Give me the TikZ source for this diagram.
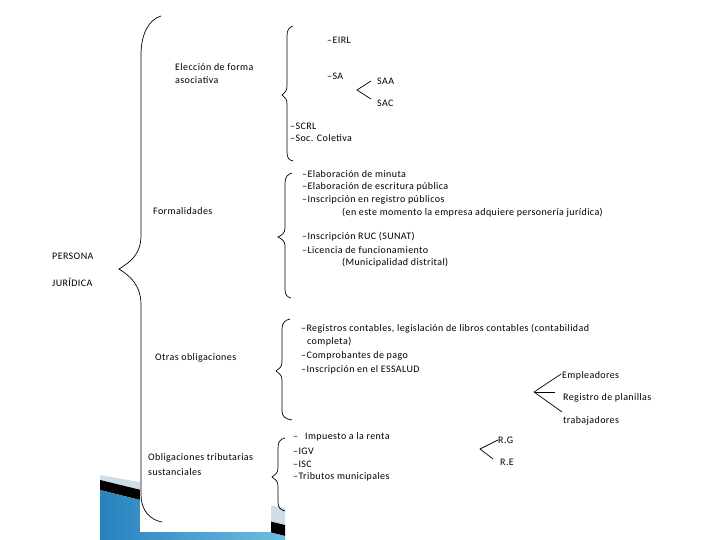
\documentclass[tikz,border=0pt]{standalone}
\usepackage{fontspec}
\setmainfont{Carlito}[LetterSpace=4]
\begin{document}
\begin{tikzpicture}[x=1pt,y=-1pt,
  txt/.style={anchor=west, inner sep=0pt, font=\fontsize{10}{12}\selectfont},
  ln/.style={line width=0.7pt, black},
  brace/.style={line width=0.7pt, black}]
\useasboundingbox (0,0) rectangle (720,540);
\fill[white] (0,0) rectangle (720,540);
% decoration lower left
\definecolor{deco1}{RGB}{205,222,232}
\definecolor{deco2}{RGB}{40,130,190}
\definecolor{deco3}{RGB}{110,190,225}
\fill[deco1] (100,475) -- (285,508) -- (285,525) -- (100,480) -- cycle;
\fill[black] (100,480) -- (285,525) -- (285,536) -- (100,490) -- cycle;
\shade[left color=deco2, right color=deco3] (100,490) -- (285,536) -- (285,540) -- (100,540) -- cycle;
\fill[white] (140,420) rectangle (271,532);
% big brace
\draw[brace] (161,16) .. controls (148,20) and (141,35) .. (141,55) -- (141,235)
  .. controls (141,255) and (130,262) .. (119,269)
  .. controls (130,276) and (141,285) .. (141,305) -- (141,495)
  .. controls (141,510) and (150,520) .. (162,522);
% brace Eleccion
\draw[brace] (293,26) .. controls (289,27) and (287,30) .. (287,36) -- (287,86)
  .. controls (287,91) and (285,93) .. (282,95)
  .. controls (285,97) and (287,99) .. (287,104) -- (287,152)
  .. controls (287,158) and (289,160) .. (293,161);
% brace Formalidades
\draw[brace] (292,173) .. controls (288,174) and (285,177) .. (285,183) -- (285,228)
  .. controls (285,233) and (282,235) .. (278,237)
  .. controls (282,239) and (285,241) .. (285,246) -- (285,289)
  .. controls (285,295) and (287,297) .. (291,298);
% brace Otras
\draw[brace] (290,319) .. controls (285,320) and (282,323) .. (282,329) -- (282,362)
  .. controls (282,367) and (279,369) .. (276,371)
  .. controls (279,373) and (282,375) .. (282,380) -- (282,411)
  .. controls (282,417) and (286,419) .. (292,420);
% brace Tributarias
\draw[brace] (285,438) .. controls (280,439) and (278,442) .. (278,448) -- (278,468)
  .. controls (278,473) and (275,475) .. (272,477)
  .. controls (275,479) and (278,481) .. (278,486) -- (278,502)
  .. controls (278,508) and (281,510) .. (285,511);
% texts
\node[txt] (eirl) at (327,40) {–EIRL};
\node[txt] (elec1) at (175,67) {Elección de forma};
\node[txt] (elec2) at (175,80) {asociativa};
\node[txt] (sa) at (327,76) {–SA};
\node[txt] (saa) at (377,81) {SAA};
\node[txt] (sac) at (377,103) {SAC};
\node[txt] (scrl) at (290,126) {–SCRL};
\node[txt] (soc) at (290,138) {–Soc. Coletiva};
\node[txt] (f1) at (302,174) {–Elaboración de minuta};
\node[txt] (f2) at (302,187) {–Elaboración de escritura pública};
\node[txt] (f3) at (302,200) {–Inscripción en registro públicos};
\node[txt] (f4) at (342,213) {(en este momento la empresa adquiere personería jurídica)};
\node[txt] (f5) at (302,237) {–Inscripción RUC (SUNAT)};
\node[txt] (f6) at (302,250) {–Licencia de funcionamiento};
\node[txt] (f7) at (342,263) {(Municipalidad distrital)};
\node[txt] (form) at (153,211) {Formalidades};
\node[txt] (pers) at (52,256) {PERSONA};
\node[txt] (jur) at (52,282) {JURÍDICA};
\node[txt] (otras) at (155,358) {Otras obligaciones};
\node[txt] (o1) at (301,329) {–Registros contables, legislación de libros contables (contabilidad};
\node[txt] (o2) at (307,342) {completa)};
\node[txt] (o3) at (301,356) {–Comprobantes de pago};
\node[txt] (o4) at (301,370) {–Inscripción en el ESSALUD};
\node[txt] (emp) at (562,376) {Empleadores};
\node[txt] (reg) at (563,398) {Registro de planillas};
\node[txt] (trab) at (563,421) {trabajadores};
\node[txt] (t1) at (293,437) {–\hspace{7pt}Impuesto a la renta};
\node[txt] (t2) at (293,451) {–IGV};
\node[txt] (t3) at (293,464) {–ISC};
\node[txt] (t4) at (293,477) {–Tributos municipales};
\node[txt] (rg) at (498,440) {R.G};
\node[txt] (re) at (500,462) {R.E};
\node[txt] (obl1) at (148,458) {Obligaciones tributarias};
\node[txt] (obl2) at (148,472) {sustanciales};
% angle connectors
\coordinate (satip) at (357,90);
\coordinate (saa-e) at (371,81);
\coordinate (sac-e) at (371,99);
\draw[ln] (saa-e) -- (satip) -- (sac-e);
\coordinate (estip) at (534,392);
\coordinate (emp-e) at (561,374);
\coordinate (reg-e) at (555,392);
\coordinate (trab-e) at (562,412);
\draw[ln] (emp-e) -- (estip) -- (trab-e);
\draw[ln] (estip) -- (reg-e);
\coordinate (rtip) at (480,449);
\coordinate (rg-e) at (498,440);
\coordinate (re-e) at (493,459);
\draw[ln] (rg-e) -- (rtip) -- (re-e);
\end{tikzpicture}
\end{document}
